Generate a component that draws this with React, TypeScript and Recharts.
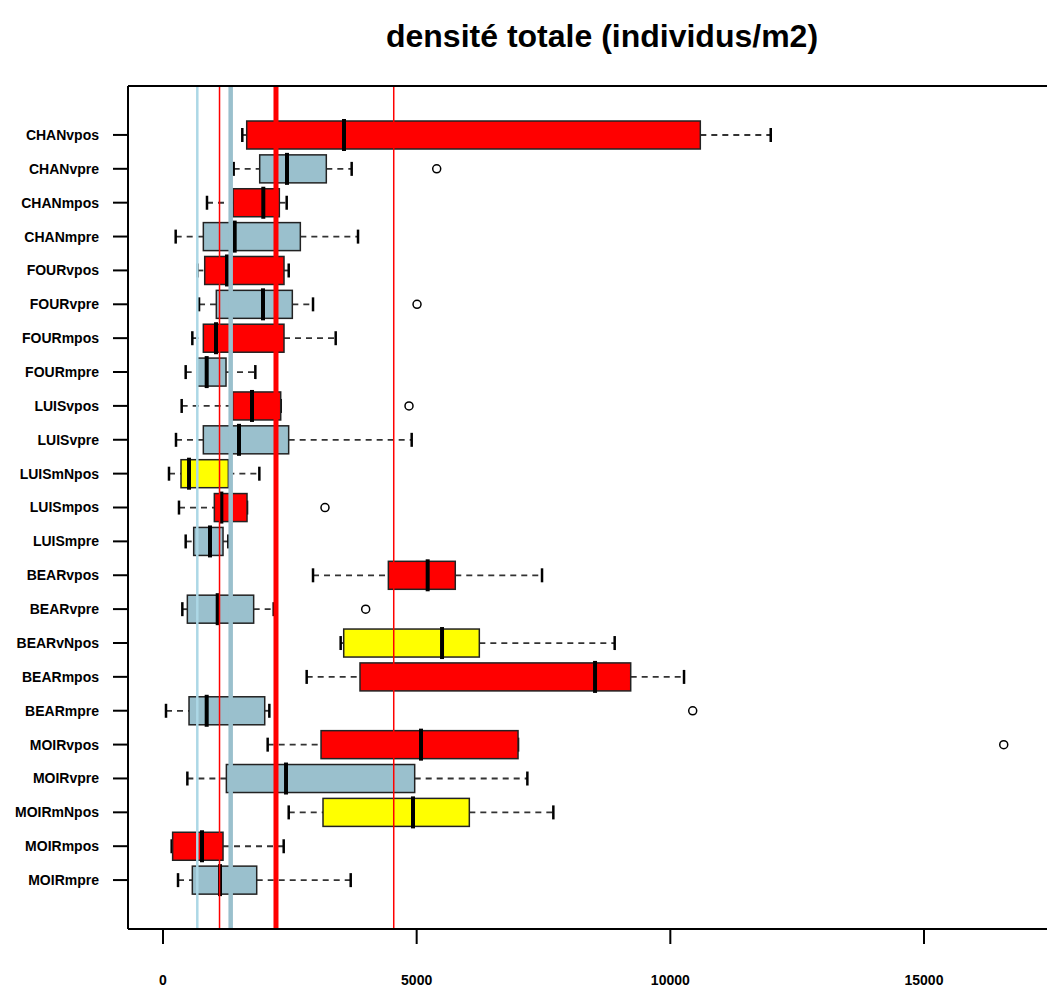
import React from "react";
import { ComposedChart, Bar, XAxis, YAxis, ReferenceLine } from "recharts";

// one box per site / treatment, top to bottom
const categories = [
    "CHANvpos", "CHANvpre", "CHANmpos", "CHANmpre",
    "FOURvpos", "FOURvpre", "FOURmpos", "FOURmpre",
    "LUISvpos", "LUISvpre", "LUISmNpos", "LUISmpos", "LUISmpre",
    "BEARvpos", "BEARvpre", "BEARvNpos", "BEARmpos", "BEARmpre",
    "MOIRvpos", "MOIRvpre", "MOIRmNpos", "MOIRmpos", "MOIRmpre"
];

// pos = red, pre = blue, Npos = yellow
const kinds = [
    "pos", "pre", "pos", "pre",
    "pos", "pre", "pos", "pre",
    "pos", "pre", "Npos", "pos", "pre",
    "pos", "pre", "Npos", "pos", "pre",
    "pos", "pre", "Npos", "pos", "pre"
];

const whiskerLow = [1563, 1393, 867, 250, 676, 710, 578, 447, 368, 256, 118, 315, 447, 2957, 381, 3502, 2832, 59, 2063, 480, 2478, 171, 296];
const q1 = [1650, 1906, 1380, 795, 822, 1051, 795, 676, 1373, 795, 355, 1012, 605, 4442, 480, 3562, 3883, 513, 3115, 1249, 3154, 190, 578];
const median = [3568, 2444, 1977, 1413, 1262, 1971, 1045, 861, 1754, 1498, 513, 1150, 926, 5217, 1078, 5500, 8516, 861, 5086, 2425, 4928, 769, 1124];
const q3 = [10591, 3219, 2293, 2707, 2385, 2549, 2385, 1242, 2320, 2477, 1288, 1656, 1183, 5761, 1787, 6235, 9219, 2005, 6998, 4961, 6038, 1183, 1847];
const whiskerHigh = [11979, 3719, 2438, 3844, 2478, 2957, 3404, 1820, 2320, 4902, 1899, 1656, 1288, 7471, 2182, 8903, 10270, 2096, 6998, 7182, 7694, 2379, 3700];
const outliers: number[][] = [
    [], [5395], [], [],
    [], [5007], [], [],
    [4849], [], [], [3193], [],
    [], [3995], [], [], [10441],
    [16572], [], [], [], []
];

const xTicks = [0, 5000, 10000, 15000];

// vertical reference lines
const refValues = [676, 1114, 1334, 2227, 4548];
const refColors = ["#ADD8E6", "#FF0000", "#9AC0CD", "#FF0000", "#FF0000"];
const refWidths = [2.5, 1.5, 4.5, 5, 1.5];

const fills: Record<string, string> = { pos: "#FF0000", pre: "#9AC0CD", Npos: "#FFFF00" };

const rows = categories.map((name, i) => {
    const lo = Math.min(whiskerLow[i], ...outliers[i]);
    const hi = Math.max(whiskerHigh[i], ...outliers[i]);
    return {
        name,
        kind: kinds[i],
        wMin: whiskerLow[i],
        q1: q1[i],
        med: median[i],
        q3: q3[i],
        wMax: whiskerHigh[i],
        out: outliers[i],
        lo,
        hi,
        range: [lo, hi]
    };
});

function BoxShape(props: any) {
    const { x, y, width, height, payload } = props;
    const d = payload;
    const k = width / (d.hi - d.lo);
    const px = (v: number) => x + (v - d.lo) * k;
    const cy = y + height / 2;
    const staple = height / 4;
    return (
        <g>
            <line x1={px(d.wMin)} x2={px(d.q1)} y1={cy} y2={cy} stroke="#333" strokeWidth={1.8} strokeDasharray="6 5" />
            <line x1={px(d.q3)} x2={px(d.wMax)} y1={cy} y2={cy} stroke="#333" strokeWidth={1.8} strokeDasharray="6 5" />
            <line x1={px(d.wMin)} x2={px(d.wMin)} y1={cy - staple} y2={cy + staple} stroke="#000" strokeWidth={2.5} />
            <line x1={px(d.wMax)} x2={px(d.wMax)} y1={cy - staple} y2={cy + staple} stroke="#000" strokeWidth={2.5} />
            <rect x={px(d.q1)} y={y} width={px(d.q3) - px(d.q1)} height={height} fill={fills[d.kind]} stroke="#222" strokeWidth={1.5} />
            <line x1={px(d.med)} x2={px(d.med)} y1={y - 2} y2={y + height + 2} stroke="#000" strokeWidth={4} />
            {d.out.map((v: number, j: number) => (
                <circle key={j} cx={px(v)} cy={cy} r={4} fill="none" stroke="#000" strokeWidth={1.5} />
            ))}
        </g>
    );
}

const tickStyle = { fontSize: 14, fontWeight: 700, fill: "#000", fontFamily: "'Liberation Sans', Arial, sans-serif" };

export default function App() {
    return (
        <div style={{ position: "absolute", left: 0, top: 0, width: 1047, height: 987, overflow: "hidden", background: "#fff" }}>
            <div
                style={{
                    position: "absolute",
                    left: 302,
                    width: 600,
                    top: 16,
                    lineHeight: "40px",
                    textAlign: "center",
                    fontFamily: "'Liberation Sans', Arial, sans-serif",
                    fontWeight: 700,
                    fontSize: 32,
                    color: "#000"
                }}
            >
                densité totale (individus/m2)
            </div>
            <ComposedChart
                width={1060}
                height={987}
                data={rows}
                layout="vertical"
                margin={{ top: 85, right: 7, bottom: 0, left: 0 }}
                barSize={28}
            >
                <XAxis
                    type="number"
                    domain={[-690, 17543]}
                    allowDataOverflow
                    ticks={xTicks}
                    height={58}
                    tickSize={15}
                    tickMargin={31}
                    tick={tickStyle}
                    axisLine={{ stroke: "#000", strokeWidth: 2 }}
                    tickLine={{ stroke: "#000", strokeWidth: 2 }}
                />
                <XAxis
                    xAxisId="top"
                    orientation="top"
                    type="number"
                    domain={[-690, 17543]}
                    allowDataOverflow
                    ticks={xTicks}
                    height={1}
                    tickSize={0}
                    tick={false}
                    tickLine={false}
                    axisLine={{ stroke: "#000", strokeWidth: 2 }}
                />
                <YAxis
                    type="category"
                    dataKey="name"
                    width={128}
                    interval={0}
                    tickSize={15}
                    tickMargin={14}
                    padding={{ top: 32, bottom: 32 }}
                    tick={tickStyle}
                    axisLine={{ stroke: "#000", strokeWidth: 2 }}
                    tickLine={{ stroke: "#000", strokeWidth: 2 }}
                />
                <Bar dataKey="range" shape={BoxShape} isAnimationActive={false} />
                {refValues.map((v, i) => (
                    <ReferenceLine key={i} x={v} stroke={refColors[i]} strokeWidth={refWidths[i]} />
                ))}
                <ReferenceLine xAxisId="top" x={-690} stroke="none" />
            </ComposedChart>
        </div>
    );
}
